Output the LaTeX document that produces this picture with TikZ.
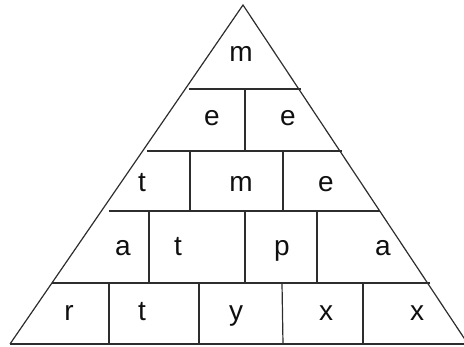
\documentclass[tikz,border=0pt]{standalone}
\usepackage{fontspec}
\setmainfont{Liberation Sans}
\definecolor{pyline}{RGB}{45,45,45}
\definecolor{pytext}{RGB}{15,15,15}
\usetikzlibrary{positioning}

\begin{document}
\begin{tikzpicture}[x=1pt,y=-1pt,
  letter/.style={font=\fontsize{28}{30}\selectfont,text=pytext,inner sep=0pt,anchor=base},
  wall/.style={draw=pyline,line width=1.2pt}
]
  \useasboundingbox (0,0) rectangle (464,347);
  \clip (0,0) rectangle (464,347);
  % outline
  \draw[wall] (10,344) -- (243,5) -- (468,344);
  % rows
  \draw[wall] (189,89) -- (301,89);
  \draw[wall] (147,151) -- (342,151);
  \draw[wall] (109,211) -- (380,211);
  \draw[wall] (52,283) -- (430,283);
  \draw[wall] (10,344) -- (464,344);
  % joints
  \draw[wall] (245,89) -- (245,151);
  \draw[wall] (190,151) -- (190,211);
  \draw[wall] (283,151) -- (283,211);
  \draw[wall] (149,211) -- (149,283);
  \draw[wall] (245,211) -- (245,283);
  \draw[wall] (317,211) -- (317,283);
  \draw[wall] (109,283) -- (109,344);
  \draw[wall] (199,283) -- (199,344);
  \draw[wall] (282,283) -- (283,344);
  \draw[wall] (363,283) -- (363,344);
  % letters
  \node[letter] (top) at (241,62) {m};
  \node[letter] (r2a) at (212,126) {e};
  \node[letter] (r2b) at (288,126) {e};
  \node[letter] (r3a) at (142,192) {t};
  \node[letter] (r3b) at (241,192) {m};
  \node[letter] (r3c) at (326,192) {e};
  \node[letter] (r4a) at (123,256) {a};
  \node[letter] (r4b) at (178,256) {t};
  \node[letter] (r4c) at (282,256) {p};
  \node[letter] (r4d) at (383,256) {a};
  \node[letter] (r5a) at (69,321) {r};
  \node[letter] (r5b) at (142,321) {t};
  \node[letter] (r5c) at (236,321) {y};
  \node[letter] (r5d) at (326,321) {x};
  \node[letter] (r5e) at (417,321) {x};
\end{tikzpicture}
\end{document}
